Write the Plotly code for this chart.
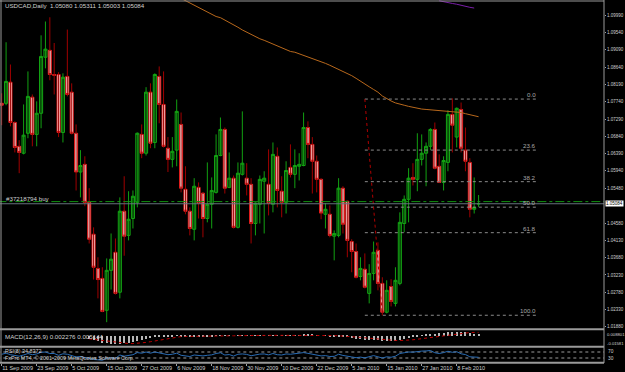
import plotly.graph_objects as go

# ---------------- data ----------------
opens = [1.0770,1.0770,1.0825,1.0720,1.0658,1.0640,1.0692,1.0786,1.0689,1.0744,
         1.0890,1.0908,1.0845,1.0845,1.0694,1.0840,1.0799,1.0692,1.0591,1.0611,
         1.0512,1.0429,1.0340,1.0314,1.0231,1.0335,1.0382,1.0278,1.0489,1.0426,
         1.0470,1.0512,1.0689,1.0640,1.0799,1.0668,1.0840,1.0767,1.0653,1.0624,
         1.0648,1.0715,1.0546,1.0489,1.0442,1.0551,1.0536,1.0470,1.0507,1.0538,
         1.0634,1.0702,1.0551,1.0575,1.0447,1.0585,1.0575,1.0559,1.0457,1.0507,
         1.0567,1.0559,1.0507,1.0632,1.0541,1.0512,1.0603,1.0585,1.0606,1.0608,
         1.0707,1.0663,1.0619,1.0572,1.0481,1.0481,1.0424,1.0426,1.0549,1.0515,
         1.0410,1.0384,1.0319,1.0338,1.0275,1.0327,1.0387,1.0301,1.0226,1.0293,
         1.0249,1.0301,1.0457,1.0520,1.0577,1.0572,1.0624,1.0640,1.0658,1.0702,
         1.0606,1.0564,1.0616,1.0741,1.0682,1.0754,1.0648,1.0616,1.0494,1.05080]
highs = [1.0796,1.0929,1.0871,1.0723,1.0674,1.0767,1.0853,1.0793,1.0775,1.0947,
         1.0983,1.0994,1.0927,1.0851,1.0848,1.0962,1.0822,1.0715,1.0648,1.0632,
         1.0549,1.0447,1.0369,1.0343,1.0366,1.0431,1.0418,1.0525,1.0580,1.0541,
         1.0543,1.0694,1.0715,1.0812,1.0822,1.0848,1.0866,1.0853,1.0682,1.0682,
         1.0780,1.0746,1.0606,1.0499,1.0575,1.0564,1.0538,1.0616,1.0577,1.0689,
         1.0733,1.0707,1.0642,1.0582,1.0616,1.0749,1.0614,1.0575,1.0512,1.0582,
         1.0593,1.0650,1.0668,1.0655,1.0580,1.0619,1.0663,1.0650,1.0640,1.0746,
         1.0723,1.0682,1.0634,1.0575,1.0510,1.0504,1.0439,1.0575,1.0554,1.0517,
         1.0416,1.0405,1.0369,1.0379,1.0351,1.0410,1.0408,1.0317,1.0309,1.0312,
         1.0343,1.0486,1.0530,1.0601,1.0614,1.0692,1.0689,1.0668,1.0705,1.0720,
         1.0637,1.0632,1.0752,1.0783,1.0759,1.0772,1.0707,1.0627,1.0577,1.05311]
lows = [1.0713,1.0765,1.0710,1.0642,1.0588,1.0637,1.0679,1.0658,1.0658,1.0705,
        1.0861,1.0830,1.0793,1.0682,1.0668,1.0788,1.0689,1.0543,1.0525,1.0502,
        1.0405,1.0311,1.0262,1.0226,1.0200,1.0285,1.0272,1.0262,1.0373,1.0413,
        1.0444,1.0499,1.0627,1.0634,1.0653,1.0653,1.0718,1.0655,1.0591,1.0603,
        1.0606,1.0538,1.0481,1.0426,1.0413,1.0470,1.0421,1.0460,1.0444,1.0535,
        1.0632,1.0535,1.0549,1.0444,1.0444,1.0582,1.0530,1.0405,1.0426,1.0457,
        1.0431,1.0478,1.0486,1.0499,1.0473,1.0483,1.0577,1.0549,1.0569,1.0606,
        1.0627,1.0535,1.0538,1.0468,1.0444,1.0421,1.0361,1.0421,1.0431,1.0369,
        1.0330,1.0314,1.0309,1.0288,1.0249,1.0309,1.0283,1.0220,1.0223,1.0241,
        1.0241,1.0296,1.0434,1.0460,1.0556,1.0541,1.0608,1.0554,1.0648,1.0598,
        1.0562,1.0543,1.0593,1.0642,1.0655,1.0642,1.0593,1.0473,1.0483,1.05003]
closes = [1.0765,1.0827,1.0720,1.0655,1.0642,1.0687,1.0788,1.0689,1.0744,1.0892,
          1.0911,1.0845,1.0843,1.0694,1.0838,1.0793,1.0692,1.0591,1.0608,1.0512,
          1.0416,1.0343,1.0311,1.0228,1.0335,1.0364,1.0275,1.0489,1.0424,1.0468,
          1.0528,1.0692,1.0640,1.0799,1.0666,1.0845,1.0767,1.0658,1.0624,1.0645,
          1.0749,1.0549,1.0489,1.0444,1.0554,1.0510,1.0470,1.0507,1.0543,1.0634,
          1.0702,1.0549,1.0575,1.0447,1.0588,1.0614,1.0559,1.0457,1.0510,1.0572,
          1.0575,1.0510,1.0637,1.0543,1.0512,1.0595,1.0585,1.0608,1.0611,1.0707,
          1.0663,1.0619,1.0572,1.0484,1.0494,1.0426,1.0431,1.0549,1.0455,1.0413,
          1.0384,1.0317,1.0340,1.0291,1.0327,1.0382,1.0301,1.0226,1.0283,1.0254,
          1.0309,1.0460,1.0520,1.0575,1.0572,1.0624,1.0640,1.0658,1.0702,1.0601,
          1.0564,1.0621,1.0741,1.0713,1.0757,1.0653,1.0619,1.0494,1.0499,1.05084]

# moving average (orange), from bar 40 on
ma_start = 40
ma_vals = [1.1049,1.1043,1.1037,1.1032,1.1025,1.1019,1.1012,1.1007,1.1002,1.0996,
           1.0993,1.0987,1.0981,1.0976,1.0968,1.0961,1.0955,1.0948,1.0943,1.0938,
           1.0934,1.0929,1.0925,1.0920,1.0914,1.0909,1.0905,1.0903,1.0899,1.0896,
           1.0892,1.0888,1.0883,1.0879,1.0874,1.0869,1.0864,1.0858,1.0853,1.0848,
           1.0842,1.0835,1.0827,1.0819,1.0813,1.0806,1.0799,1.0789,1.0782,1.0776,
           1.0771,1.0767,1.0765,1.0762,1.0759,1.0757,1.0755,1.0754,1.0753,1.0752,
           1.0752,1.0750,1.0749,1.0748,1.0747,1.0746,1.0743,1.0740,1.0737,1.0735]
# purple line at the top right
pu_start = 100
pu_vals = [1.1037,1.1034,1.1032,1.1030,1.1028,1.1025,1.1023,1.1020,1.1018]

# MACD(12,26,9) from bar 20 on
macd_start = 20
macd_main = [-0.0045,-0.0068,-0.0088,-0.0105,-0.0118,-0.0124,-0.0128,-0.0122,-0.0118,-0.0112,
             -0.0102,-0.0082,-0.0068,-0.0050,-0.0040,-0.0026,-0.0018,-0.0014,-0.0012,-0.0010,
             -0.0004,-0.0008,-0.0012,-0.0016,-0.0010,-0.0008,-0.0010,-0.0009,-0.0006,0.0002,
             0.0010,0.0006,0.0006,0.0000,0.0004,0.0008,0.0008,0.0002,0.0002,0.0005,
             0.0007,0.0005,0.0009,0.0006,0.0003,0.0006,0.0008,0.0010,0.0011,0.0016,
             0.0016,0.0013,0.0008,0.0000,-0.0004,-0.0011,-0.0017,-0.0014,-0.0017,-0.0024,
             -0.0033,-0.0044,-0.0050,-0.0058,-0.0062,-0.0061,-0.0066,-0.0078,-0.0080,-0.0084,
             -0.0082,-0.0066,-0.0050,-0.0034,-0.0022,-0.0006,0.0008,0.0018,0.0030,0.0034,
             0.0036,0.0040,0.0052,0.0056,0.0062,0.0058,0.0050,0.0036,0.0028,0.002276]
macd_signal = [-0.0048,-0.0056,-0.0066,-0.0076,-0.0086,-0.0095,-0.0103,-0.0110,-0.0116,-0.0120,
               -0.0121,-0.0118,-0.0112,-0.0103,-0.0092,-0.0080,-0.0066,-0.0052,-0.0040,-0.0029,
               -0.0020,-0.0013,-0.0011,-0.0011,-0.0011,-0.0011,-0.0011,-0.0011,-0.0010,-0.0009,
               -0.0007,-0.0005,-0.0003,-0.0001,0.0001,0.0003,0.0005,0.0005,0.0005,0.0005,
               0.0005,0.0005,0.0006,0.0006,0.0006,0.0006,0.0006,0.0007,0.0008,0.0009,
               0.0010,0.0011,0.0011,0.0010,0.0008,0.0005,0.0002,-0.0001,-0.0004,-0.0008,
               -0.0013,-0.0019,-0.0025,-0.0032,-0.0039,-0.0046,-0.0052,-0.0059,-0.0065,-0.0070,
               -0.0073,-0.0074,-0.0072,-0.0068,-0.0062,-0.0054,-0.0045,-0.0035,-0.0025,-0.0015,
               -0.0006,0.0004,0.0014,0.0024,0.0033,0.0040,0.0045,0.0049,0.0051,0.005144]

# RSI(8)
rsi_vals = [55,62,52,45,42,50,60,52,57,68,70,60,60,48,58,55,45,37,40,32,
            25,20,18,15,28,32,27,50,42,47,52,66,62,70,62,70,64,56,52,55,
            62,48,43,40,50,47,44,48,51,60,65,50,53,43,55,57,54,45,51,56,
            57,51,60,52,50,57,55,58,58,66,61,57,52,44,46,40,41,55,47,40,
            37,32,36,31,38,46,38,30,38,35,42,60,65,70,69,74,76,77,80,65,
            60,66,75,68,72,58,53,38,38,34.84]

# Fibonacci retracement anchors (bar, price)
fib_bar_hi, fib_price_hi = 83, 1.0781
fib_bar_lo, fib_price_lo = 87, 1.0218
fib_end_bar = 122.6
fib_levels = [0.0, 23.6, 38.2, 50.0, 61.8, 100.0]

buy_price = 1.0514
bid_price = 1.05084

price_ticks = [1.09990,1.09540,1.09090,1.08640,1.08190,1.07740,1.07290,1.06840,1.06390,
               1.05940,1.05480,1.04580,1.04130,1.03680,1.03230,1.02780,1.02330,1.01880]
date_bars = [0,8,16,24,32,40,48,56,64,72,80,88,96,104]
date_labels = ["11 Sep 2009","23 Sep 2009","5 Oct 2009","15 Oct 2009","27 Oct 2009",
               "6 Nov 2009","18 Nov 2009","30 Nov 2009","10 Dec 2009","22 Dec 2009",
               "5 Jan 2010","15 Jan 2010","27 Jan 2010","8 Feb 2010"]

# ---------------- figure ----------------
W, H = 625, 372
n = len(opens)
bars = list(range(n))
FONT = "Liberation Sans"
TXT = "#d0d0d0"
FS = 6.2

def py(px):          # pixel row -> paper y
    return 1 - px / H

def pxx(px):         # pixel column -> paper x
    return px / W

fig = go.Figure()

# wicks
for bull, col in ((True, "#12a012"), (False, "#a00000")):
    wx, wy = [], []
    for i in bars:
        if (closes[i] >= opens[i]) == bull:
            wx += [i, i, None]
            wy += [lows[i], highs[i], None]
    fig.add_trace(go.Scatter(x=wx, y=wy, mode="lines", line=dict(color=col, width=1),
                             hoverinfo="skip", showlegend=False))

# bodies
body_hi = [max(o, c) for o, c in zip(opens, closes)]
body_lo = [min(o, c) for o, c in zip(opens, closes)]
fig.add_trace(go.Candlestick(
    x=bars, open=opens, high=body_hi, low=body_lo, close=closes,
    increasing=dict(line=dict(color="#14a814", width=1), fillcolor="#041004"),
    decreasing=dict(line=dict(color="#e01818", width=1), fillcolor="#ffffff"),
    whiskerwidth=0, showlegend=False, hoverinfo="skip"))

# moving averages
fig.add_trace(go.Scatter(x=list(range(ma_start, ma_start + len(ma_vals))), y=ma_vals,
                         mode="lines", line=dict(color="#b8681c", width=1), showlegend=False))
fig.add_trace(go.Scatter(x=list(range(pu_start, pu_start + len(pu_vals))), y=pu_vals,
                         mode="lines", line=dict(color="#7a1ea8", width=1), showlegend=False))

# fibonacci
for lv in fib_levels:
    p = fib_price_hi - lv / 100 * (fib_price_hi - fib_price_lo)
    fig.add_trace(go.Scatter(x=[fib_bar_hi, fib_end_bar], y=[p, p], mode="lines",
                             line=dict(color="#8a8a8a", width=1, dash="dot"), showlegend=False))
    fig.add_annotation(x=fib_end_bar, y=p, xref="x", yref="y", text=f"{lv:.1f}",
                       showarrow=False, xanchor="right", yanchor="bottom", yshift=-1,
                       font=dict(family=FONT, size=FS, color="#a8a8a8"))
fig.add_trace(go.Scatter(x=[fib_bar_hi, fib_bar_lo], y=[fib_price_hi, fib_price_lo], mode="lines",
                         line=dict(color="#b00000", width=1, dash="dot"), showlegend=False))

# order / bid lines
fig.add_trace(go.Scatter(x=[-1, 140], y=[bid_price, bid_price], mode="lines",
                         line=dict(color="#66707e", width=1), showlegend=False))
fig.add_trace(go.Scatter(x=[-1, 140], y=[buy_price, buy_price], mode="lines",
                         line=dict(color="#109010", width=1, dash="dashdot"), showlegend=False))

# MACD
mx = list(range(macd_start, macd_start + len(macd_main)))
fig.add_trace(go.Bar(x=mx, y=macd_main, width=0.25, marker=dict(color="#b8b8b8", line=dict(width=0)),
                     yaxis="y2", showlegend=False))
fig.add_trace(go.Scatter(x=mx, y=macd_signal, mode="lines", yaxis="y2",
                         line=dict(color="#c00000", width=1, dash="dot"), showlegend=False))

# RSI
for lvl in (70, 30):
    fig.add_trace(go.Scatter(x=[-1, 140], y=[lvl, lvl], mode="lines", yaxis="y3",
                             line=dict(color="#9a9a9a", width=1, dash="dot"), showlegend=False))
fig.add_trace(go.Scatter(x=bars, y=rsi_vals, mode="lines", yaxis="y3",
                         line=dict(color="#2a6cb4", width=1), showlegend=False))

x_left_bar = (0 - 1.7) / 4.375
x_right_bar = (604 - 1.7) / 4.375
P0 = 1.1039
fig.update_layout(
    width=W, height=H, margin=dict(l=0, r=0, t=0, b=0, autoexpand=False),
    paper_bgcolor="#000000", plot_bgcolor="#000000",
    showlegend=False, boxgap=0.3, boxgroupgap=0, bargap=0,
    xaxis=dict(domain=[0, 604 / W], range=[x_left_bar, x_right_bar], anchor="y3",
               automargin=False,
               rangeslider=dict(visible=False), showgrid=False, zeroline=False,
               tickmode="array", tickvals=date_bars, ticktext=date_labels,
               ticks="outside", ticklen=2, tickcolor="#a0a0a0", tickangle=0,
               ticklabelposition="outside right",
               tickfont=dict(family=FONT, size=5.5, color=TXT)),
    yaxis=dict(domain=[py(328), 1], range=[P0 - 328 / 3840, P0], side="right",
               anchor="x", showgrid=False, zeroline=False, automargin=False,
               tickmode="array", tickvals=price_ticks, ticktext=[f"{v:.5f}" for v in price_ticks],
               ticks="outside", ticklen=1, tickcolor="#a0a0a0",
               tickfont=dict(family=FONT, size=4.5, color=TXT)),
    yaxis2=dict(domain=[py(346), py(330)], range=[-0.0158, 0.0088], anchor="x",
                automargin=False, showgrid=False, zeroline=False, showticklabels=False),
    yaxis3=dict(domain=[py(362.5), py(347.5)], range=[0, 100], anchor="x",
                automargin=False, showgrid=False, zeroline=False, showticklabels=False),
)

# frame lines
line_col = "#9a9a9a"
shapes = [
    dict(type="line", xref="paper", yref="paper", x0=0, x1=pxx(604), y0=py(1), y1=py(1),
         line=dict(color=line_col, width=1)),
    dict(type="line", xref="paper", yref="paper", x0=pxx(1), x1=pxx(1), y0=py(0), y1=py(363),
         line=dict(color=line_col, width=1)),
    dict(type="line", xref="paper", yref="paper", x0=pxx(604), x1=pxx(604), y0=py(0), y1=py(363),
         line=dict(color=line_col, width=1)),
]
for yy in (329.3, 346.8, 362.8):
    shapes.append(dict(type="line", xref="paper", yref="paper", x0=0, x1=pxx(604),
                       y0=py(yy), y1=py(yy), line=dict(color=line_col, width=2)))
fig.update_layout(shapes=shapes)

def label(x, y, text, size=FS, color=TXT, **kw):
    fig.add_annotation(x=pxx(x), y=py(y), xref="paper", yref="paper", text=text,
                       showarrow=False, xanchor="left", yanchor="middle",
                       font=dict(family=FONT, size=size, color=color), **kw)

label(3, 6, "USDCAD,Daily  1.05080 1.05311 1.05003 1.05084")
label(4, 198.5, "#37218794 buy")
label(3, 336, "MACD(12,26,9) 0.002276 0.005144")
label(3, 351.3, "RSI(8) 34.8372", size=5.4)
label(3, 358.2, "FxPro MT4, © 2001-2009 MetaQuotes Software Corp.", size=5.4)
label(605, 334, "0.008801", size=4.2)
label(605, 343, "-0.01581", size=4.2)
label(606, 351.5, "70", size=4.8)
label(606, 358, "30", size=4.8)

# current price tag
fig.add_annotation(x=pxx(604.5), y=bid_price, xref="paper", yref="y", text="1.05084",
                   showarrow=False, xanchor="left", yanchor="middle", bgcolor="#ffffff",
                   borderpad=0, font=dict(family=FONT, size=4.5, color="#000000"))

fig.write_html("out.html")
